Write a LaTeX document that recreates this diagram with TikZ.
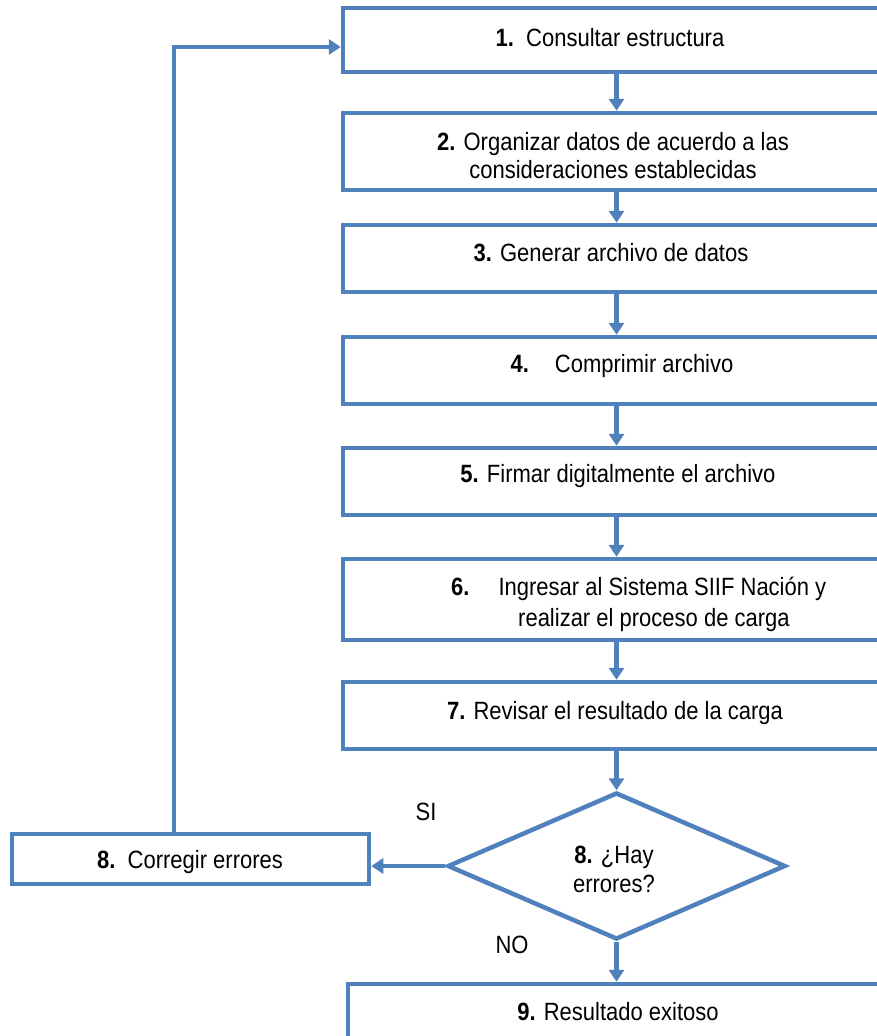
\documentclass[tikz,border=0pt]{standalone}
\usepackage{fontspec}
\setmainfont[FakeStretch=0.88]{Liberation Sans}
\usetikzlibrary{shapes.geometric,arrows.meta}
\definecolor{fb}{HTML}{4F81BD}
\begin{document}
\begin{tikzpicture}[x=1pt,y=-1pt,
  box/.style={draw=fb,line width=4.5pt,rectangle,inner sep=0pt},
  lbl/.style={font=\fontsize{25}{28}\selectfont,inner sep=0pt,align=center},
  conn/.style={draw=fb,line width=4.5pt,-{Triangle[length=12pt,width=15pt]}},
]
\useasboundingbox (0,0) rectangle (877,1036);
\clip (0,0) rectangle (877,1036);
% boxes
\node[box,minimum width=547pt,minimum height=64pt] (b1) at (616.5,40) {};
\node[box,minimum width=547pt,minimum height=77pt] (b2) at (616.5,151.5) {};
\node[box,minimum width=547pt,minimum height=67pt] (b3) at (616.5,258.5) {};
\node[box,minimum width=547pt,minimum height=67pt] (b4) at (616.5,370.5) {};
\node[box,minimum width=547pt,minimum height=67pt] (b5) at (616.5,481.5) {};
\node[box,minimum width=547pt,minimum height=81pt] (b6) at (616.5,599.5) {};
\node[box,minimum width=547pt,minimum height=67pt] (b7) at (616.5,715.5) {};
\node[box,diamond,minimum width=338pt,minimum height=147pt] (d) at (616.5,866) {};
\node[box,minimum width=357pt,minimum height=50pt] (b8) at (190.5,859) {};
\node[box,minimum width=542pt,minimum height=76pt] (b9) at (619,1022) {};
% texts
\node[lbl] (t1) at (610,38) {\textbf{1.}\ \ Consultar estructura};
\node[lbl] (t2) at (613,156) {\textbf{2.} Organizar datos de acuerdo a las\\consideraciones establecidas};
\node[lbl] (t3) at (611,253) {\textbf{3.} Generar archivo de datos};
\node[lbl] (t4) at (622,366) {\textbf{4.}\hspace{26pt}Comprimir archivo};
\node[lbl] (t5) at (618,476) {\textbf{5.} Firmar digitalmente el archivo};
\node[lbl,anchor=west] (t6a) at (451,589) {\textbf{6.}\hspace{29pt}Ingresar al Sistema SIIF Nación y};
\node[lbl,anchor=west] (t6b) at (518,620) {realizar el proceso de carga};
\node[lbl] (t7) at (615,713) {\textbf{7.} Revisar el resultado de la carga};
\node[lbl,font=\fontsize{25}{29}\selectfont] (td) at (614,869) {\textbf{8.} ¿Hay\\errores?};
\node[lbl] (t8) at (190,862) {\textbf{8.}\ \ Corregir errores};
\node[lbl] (t9) at (618,1012) {\textbf{9.} Resultado exitoso};
\node[lbl] (si) at (426,812) {SI};
\node[lbl] (no) at (512,945) {NO};
% connectors
\draw[conn] (b1.south) -- (b2.north);
\draw[conn] (b2.south) -- (b3.north);
\draw[conn] (b3.south) -- (b4.north);
\draw[conn] (b4.south) -- (b5.north);
\draw[conn] (b5.south) -- (b6.north);
\draw[conn] (b6.south) -- (b7.north);
\draw[conn] (b7.south) -- (d.north);
\draw[conn] (d.west) -- (d.west -| b8.east);
\draw[conn] (d.south) -- (d.south |- b9.north);
\coordinate (up) at ([xshift=-16.5pt]b8.north);
\draw[conn] (up) |- ([yshift=-7pt]b1.west);
\end{tikzpicture}
\end{document}
